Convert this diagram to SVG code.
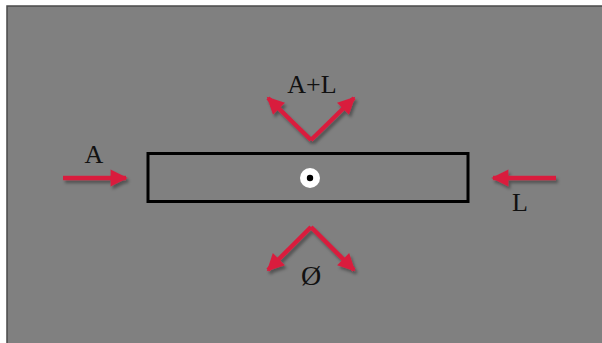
<svg xmlns="http://www.w3.org/2000/svg" width="602" height="343" viewBox="0 0 602 343">
  <defs>
    <style>
      .lbl { font-family: "Liberation Serif", "Times New Roman", serif; font-size: 26px; fill: #111; text-anchor: middle; }
      .arr { stroke: #d91c3e; stroke-width: 4.5; fill: none; stroke-linecap: butt; stroke-linejoin: miter; marker-end: url(#head); }
    </style>
    <marker id="head" viewBox="0 0 10 10" refX="9" refY="5" markerWidth="4" markerHeight="3.8" orient="auto" markerUnits="strokeWidth">
      <path d="M0,0 L10,5 L0,10 z" fill="#d91c3e"/>
    </marker>
    <filter id="shadow" x="-20%" y="-20%" width="140%" height="140%">
      <feGaussianBlur in="SourceAlpha" stdDeviation="1.5"/>
      <feOffset dx="2" dy="3" result="b"/>
      <feFlood flood-color="#000" flood-opacity="0.35"/>
      <feComposite in2="b" operator="in"/>
      <feMerge><feMergeNode/><feMergeNode in="SourceGraphic"/></feMerge>
    </filter>
  </defs>
  <rect x="0" y="0" width="602" height="343" fill="#ffffff"/>
  <rect x="7" y="6" width="600" height="345" fill="#808080" stroke="#4a4a4a" stroke-width="1.5"/>

  <g id="bar">
    <rect x="148" y="153.5" width="320" height="48" fill="none" stroke="#000" stroke-width="3"/>
    <circle cx="310" cy="178" r="10" fill="#fff"/>
    <circle cx="310" cy="178" r="3.2" fill="#000"/>
  </g>

  <g id="connectors" filter="url(#shadow)">
    <line class="arr" x1="63" y1="178" x2="126" y2="178"/>
    <line class="arr" x1="556" y1="178" x2="493" y2="178"/>
    <path class="arr" d="M311,140 L268,98"/>
    <path class="arr" d="M311,140 L354,98"/>
    <path class="arr" d="M311,227 L268,270"/>
    <path class="arr" d="M311,227 L354,270"/>
  </g>

  <g id="label-A"><text class="lbl" x="94" y="163">A</text></g>
  <g id="label-AL"><text class="lbl" x="312" y="93">A+L</text></g>
  <g id="label-L"><text class="lbl" x="520" y="211">L</text></g>
  <g id="label-O"><text class="lbl" x="311" y="285" style="font-size:28px">Ø</text></g>
</svg>
